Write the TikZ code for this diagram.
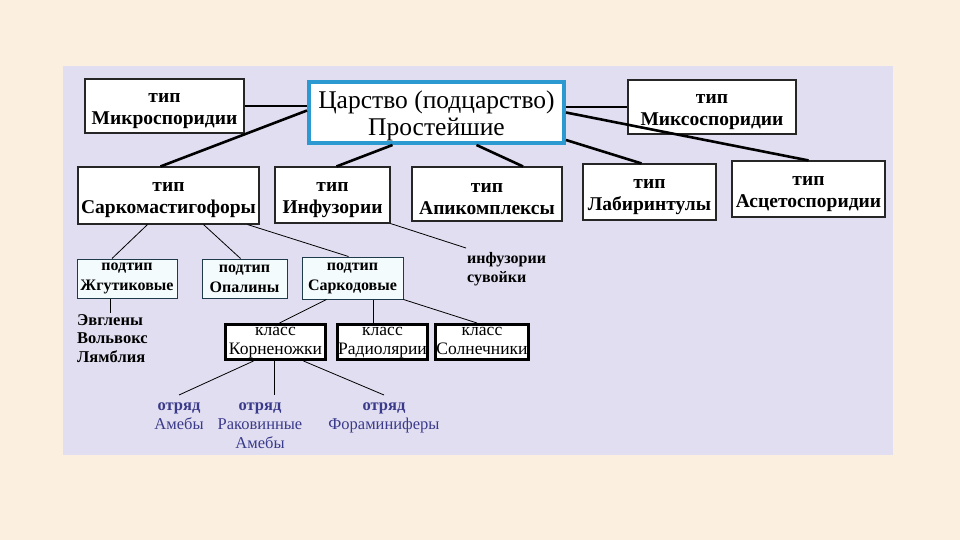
\documentclass[tikz,border=0pt]{standalone}
\usepackage{fontspec}
\setmainfont{Liberation Serif}
\usetikzlibrary{positioning}
\definecolor{page}{HTML}{FBF0DF}
\definecolor{panel}{HTML}{E1DEF1}
\definecolor{rim}{HTML}{2C9AD1}
\definecolor{subfill}{HTML}{F4FBFD}
\definecolor{subrim}{HTML}{1F3A4A}
\definecolor{otr}{HTML}{3A3A8A}
% invisible rules that fix the height of the first and the depth of the last line
\newcommand\verh[1]{\rule{0pt}{#1}}
\newcommand\niz[1]{\rule[-#1]{0pt}{#1}}

\begin{document}
\begin{tikzpicture}[x=1pt, y=-1pt,
      tip/.style={draw=black!85, line width=1.1pt, fill=white, inner sep=0pt, align=center,
                  font=\fontsize{19.5}{22}\selectfont\bfseries},
      sub/.style={draw=subrim, line width=1pt, fill=subfill, inner sep=0pt, align=center,
                  font=\fontsize{16}{20}\selectfont\bfseries},
      klass/.style={draw=black, line width=3pt, fill=white, inner sep=0pt, align=center,
                  font=\fontsize{17.5}{19}\selectfont},
      spisok/.style={inner sep=1pt, align=left, font=\fontsize{16.5}{18.5}\selectfont\bfseries},
      otryad/.style={inner sep=1pt, align=center, text=otr, font=\fontsize{16.5}{19}\selectfont},
      thickline/.style={line width=2.6pt, black},
      thinline/.style={line width=0.8pt, black}]
    \useasboundingbox (0,0) rectangle (960,540);
    \fill[page] (0,0) rectangle (960,540);
    \fill[panel] (63,66) rectangle (893,455);

    % top row
    \node[draw=rim, line width=4pt, fill=white, inner sep=0pt, align=center, minimum width=255,
          minimum height=61, font=\fontsize{25.5}{27}\selectfont] (tsar) at (436.5,112.5)
          {\verh{24pt}Царство (подцарство)\\Простейшие};
    \node[tip, minimum width=159, minimum height=54] (mikro) at (164.5,106) {\verh{19pt}тип\\Микроспоридии};
    \node[tip, minimum width=168, minimum height=54] (miks) at (712,107) {\verh{19pt}тип\\Миксоспоридии};

    % types
    \node[tip, minimum width=181, minimum height=57] (sarkomast) at (168.5,195.5) {\verh{19pt}тип\\Саркомастигофоры};
    \node[tip, minimum width=115, minimum height=56] (infuz) at (332.5,195) {\verh{19pt}тип\\Инфузории};
    \node[tip, minimum width=150, minimum height=54] (apik) at (487,194) {\verh{19pt}тип\\Апикомплексы};
    \node[tip, minimum width=133, minimum height=56] (labir) at (649.5,192) {\verh{19pt}тип\\Лабиринтулы};
    \node[tip, minimum width=153, minimum height=56] (asceto) at (808.5,189) {\verh{19pt}тип\\Асцетоспоридии};

    % subtypes
    \node[sub, minimum width=100, minimum height=39] (zhgut) at (127,278.5) {подтип\\Жгутиковые};
    \node[sub, minimum width=85, minimum height=39] (opal) at (244.5,278.5) {подтип\\Опалины};
    \node[sub, minimum width=101, minimum height=42] (sarkod) at (352.5,278) {подтип\\Саркодовые};
    \node[spisok, anchor=north west] (evg) at (76,313) {Эвглены\\Вольвокс\\Лямблия};
    \node[spisok, anchor=north west, font=\fontsize{16}{19}\selectfont\bfseries] (suv) at (466,251)
          {инфузории\\сувойки};

    % classes
    \node[klass, minimum width=100, minimum height=35] (korn) at (275.5,342) {\verh{11pt}класс\\Корненожки\niz{5pt}};
    \node[klass, minimum width=90, minimum height=35] (radio) at (382.5,342) {\verh{11pt}класс\\Радиолярии\niz{5pt}};
    \node[klass, minimum width=93, minimum height=35] (solne) at (482,342) {\verh{11pt}класс\\Солнечники\niz{5pt}};

    % orders
    \node[otryad, anchor=north] (ameby) at (179,402) {\textbf{отряд}\\Амебы};
    \node[otryad, anchor=north] (rakov) at (260,402) {\textbf{отряд}\\Раковинные\\Амебы};
    \node[otryad, anchor=north] (foram) at (384,402) {\textbf{отряд}\\Фораминиферы};

    \draw[thickline] (mikro.east) -- (mikro.east -| tsar.west);
    \draw[thickline] ([yshift=2pt]tsar.west) -- ([xshift=-8pt]sarkomast.north);
    \draw[thickline] ([xshift=-44pt]tsar.south) -- ([xshift=4pt]infuz.north);
    \draw[thickline] ([xshift=40pt]tsar.south) -- ([xshift=36pt]apik.north);
    \draw[thickline] (tsar.east |- miks.west) -- (miks.west);
    \draw[thickline] (tsar.east) -- (asceto.north);
    \draw[thickline] ([yshift=5pt]tsar.south east) -- ([xshift=-8pt]labir.north);

    \draw[thinline] ([xshift=-21pt]sarkomast.south) -- ([xshift=-15pt]zhgut.north);
    \draw[thinline] ([xshift=35pt]sarkomast.south) -- ([xshift=-4pt]opal.north);
    \draw[thinline] ([xshift=-12pt]sarkomast.south east) -- ([xshift=-4pt]sarkod.north);
    \draw[thinline] (infuz.south east) -- ([yshift=3pt]suv.north west);
    \draw[thinline] ([xshift=-17pt]zhgut.south) -- ([xshift=-17pt]zhgut.south |- evg.north);
    \draw[thinline] ([xshift=-26pt]sarkod.south) -- ([xshift=4pt]korn.north);
    \draw[thinline] ([xshift=21pt]sarkod.south) -- ([xshift=21pt]sarkod.south |- radio.north);
    \draw[thinline] (sarkod.south east) -- ([xshift=-5pt]solne.north);
    \draw[thinline] ([xshift=-22pt]korn.south) -- ([yshift=7pt]ameby.north);
    \draw[thinline] ([xshift=-1.5pt]korn.south) -- ([xshift=-1.5pt,yshift=7pt]korn.south |- rakov.north);
    \draw[thinline] ([xshift=28pt]korn.south) -- ([yshift=7pt]foram.north);
  \end{tikzpicture}
\end{document}
